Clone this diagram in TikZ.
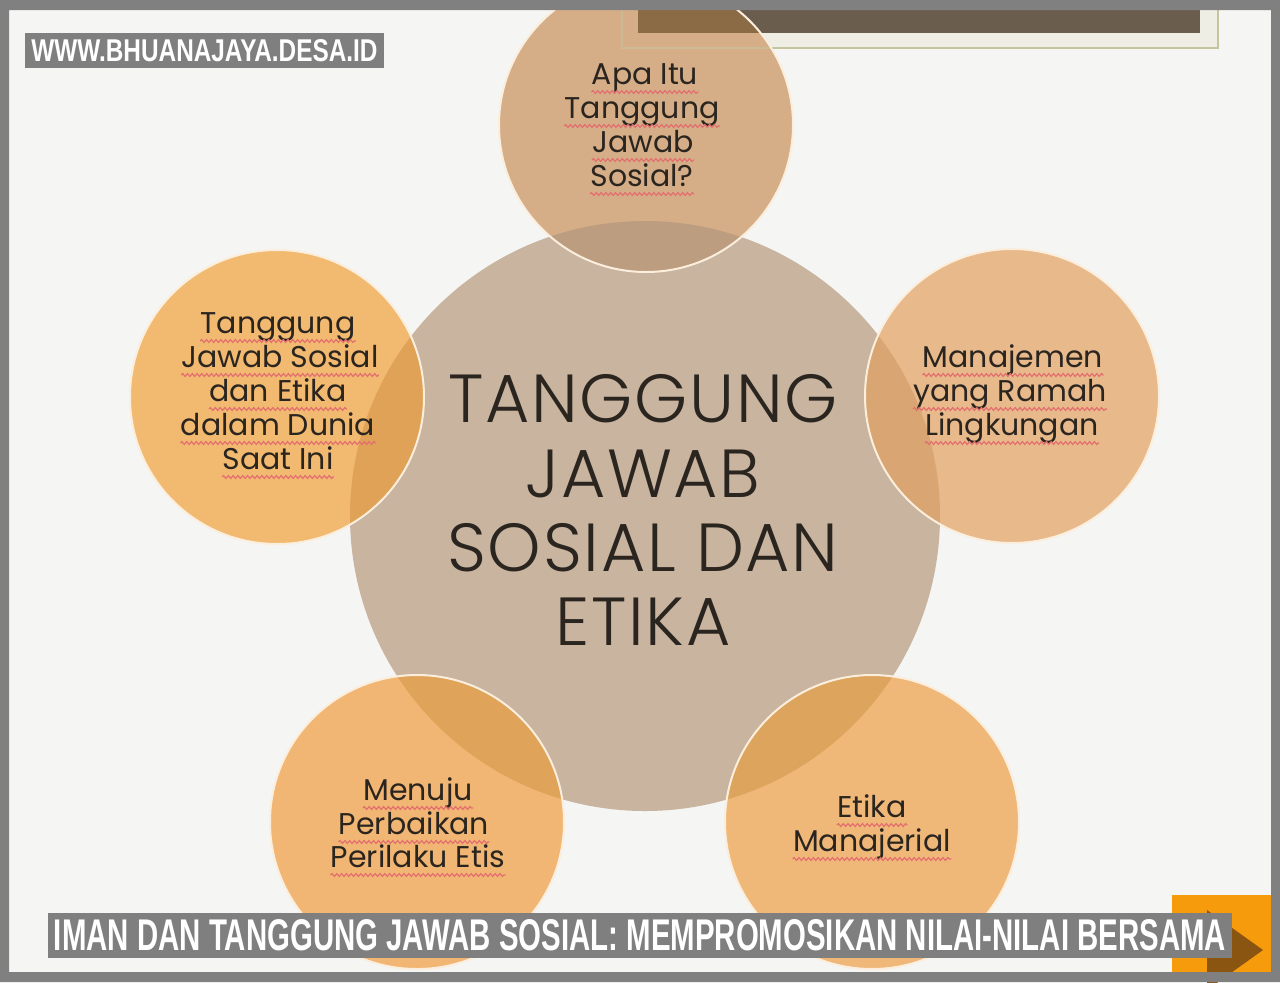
\documentclass[tikz,border=0pt]{standalone}
\usepackage{fontspec}
\setmainfont{Poppins}
\newfontfamily\lightfont{Poppins}[UprightFont={* Light}, LetterSpace=2.5]
\newfontfamily\bannerfont{Liberation Sans}
\usetikzlibrary{decorations.pathmorphing}
\definecolor{bgcol}{HTML}{F5F5F3}
\definecolor{bordercol}{HTML}{808080}
\definecolor{cmain}{HTML}{C8B49F}
\definecolor{ctop}{HTML}{D5AE88}
\definecolor{cleft}{HTML}{F2B970}
\definecolor{cright}{HTML}{E8B98A}
\definecolor{cbl}{HTML}{F1B673}
\definecolor{cbr}{HTML}{EFB778}
\definecolor{otop}{HTML}{BD9D7F}
\definecolor{oleft}{HTML}{DFA256}
\definecolor{oright}{HTML}{D9A673}
\definecolor{obl}{HTML}{DFA35A}
\definecolor{obr}{HTML}{DDA45E}
\definecolor{ink}{HTML}{2B2520}
\definecolor{squigred}{HTML}{E36F6F}
\definecolor{bubline}{HTML}{FBEEDD}
\definecolor{framefill}{HTML}{EFEEE5}
\definecolor{frameline}{HTML}{C4C49E}
\definecolor{barcol}{HTML}{6B5D4D}
\definecolor{barover}{HTML}{8B6B45}
\definecolor{wmgray}{HTML}{7F7F7F}
\definecolor{btnorange}{HTML}{F59B0C}
\definecolor{btndark}{HTML}{8A5510}
\newcommand\wline[4]{%
  \node[txt] (#1) at (#2,#3) {#4};
  \draw[squig] ([yshift=-4pt]#1.base west) -- ([yshift=-4pt]#1.base east);}
\begin{document}
\begin{tikzpicture}[x=0.5pt,y=-0.5pt,
  bub/.style={circle, minimum size=147pt, inner sep=0pt},
  bigbub/.style={circle, minimum size=295pt, inner sep=0pt},
  txt/.style={font=\fontsize{15}{17}\selectfont, text=ink, inner sep=0pt, anchor=base},
  bigtxt/.style={font=\lightfont\fontsize{34}{37}\selectfont, text=ink, inner sep=0pt, anchor=base},
  squig/.style={draw=squigred, line width=0.6pt, decorate,
    decoration={snake, amplitude=0.7pt, segment length=2.4pt}},
  rim/.style={draw=bubline, line width=1pt},
  graybox/.style={fill=wmgray, inner sep=0pt}]
\useasboundingbox (0,0) rectangle (1280,982);
\fill[bgcol] (0,0) rectangle (1280,982);
% top frame
\filldraw[fill=framefill, draw=frameline, line width=1pt] (622,0) rectangle (1218,48);
\fill[barcol] (638,0) rectangle (1200,33);
% circles
\node[bigbub, fill=cmain] (c0) at (645,516) {};
\node[bub, fill=ctop] (c1) at (646,125) {};
\node[bub, fill=cleft] (c2) at (277,397) {};
\node[bub, fill=cright] (c3) at (1012,396) {};
\node[bub, fill=cbl] (c4) at (417,822) {};
\node[bub, fill=cbr] (c5) at (872,822) {};
% overlaps
\begin{scope}
  \clip (c1.center) circle[radius=73.5pt];
  \fill[barover] (638,0) rectangle (1200,33);
  \draw[frameline!60!ctop, line width=1pt] (622,0) rectangle (1218,48);
\end{scope}
\foreach \c/\o in {c1/otop, c2/oleft, c3/oright, c4/obl, c5/obr}{
  \begin{scope}
    \clip (c0.center) circle[radius=147.5pt];
    \fill[\o] (\c.center) circle[radius=73.5pt];
  \end{scope}
}
\foreach \c in {c1,c2,c3,c4,c5}{
  \draw[rim] (\c.center) circle[radius=73.5pt];
}
% centre text
\node[bigtxt] (m1) at (643,422) {TANGGUNG};
\node[bigtxt] (m2) at (643,497) {JAWAB};
\node[bigtxt] (m3) at (643,571) {SOSIAL DAN};
\node[bigtxt] (m4) at (643,645) {ETIKA};
% top circle
\wline{a1}{645}{84}{Apa Itu}
\wline{a2}{642}{118}{Tanggung}
\wline{a3}{643}{152}{Jawab}
\wline{a4}{642}{186}{Sosial?}
% left circle
\wline{b1}{278}{333}{Tanggung}
\wline{b2}{280}{367}{Jawab Sosial}
\wline{b3}{278}{401}{dan Etika}
\wline{b4}{278}{435}{dalam Dunia}
\wline{b5}{278}{469}{Saat Ini}
% right circle
\wline{r1}{1013}{367}{Manajemen}
\wline{r2}{1010}{401}{yang Ramah}
\wline{r3}{1012}{435}{Lingkungan}
% bottom left
\wline{d1}{418}{800}{Menuju}
\wline{d2}{414}{834}{Perbaikan}
\wline{d3}{418}{867}{Perilaku Etis}
% bottom right
\wline{e1}{872}{817}{Etika}
\wline{e2}{872}{851}{Manajerial}
% button
\fill[btnorange] (1172,895) rectangle (1280,982);
\fill[btndark] (1207,910) -- (1263,950) -- (1207,990) -- cycle;
% border
\fill[bordercol, even odd rule] (0,0) rectangle (1280,982) (9,10) rectangle (1271,972);
% watermark and banner
\node[graybox, minimum width=179.5pt, minimum height=17.5pt] (wm) at (204.5,50.5)
  {\resizebox{173pt}{11pt}{\bannerfont\bfseries\color{white}WWW.BHUANAJAYA.DESA.ID}};
\node[graybox, minimum width=592pt, minimum height=22.5pt] (banner) at (640,935.5)
  {\resizebox{586pt}{15.5pt}{\bannerfont\bfseries\color{white}IMAN DAN TANGGUNG JAWAB SOSIAL: MEMPROMOSIKAN NILAI-NILAI BERSAMA}};
\end{tikzpicture}
\end{document}
